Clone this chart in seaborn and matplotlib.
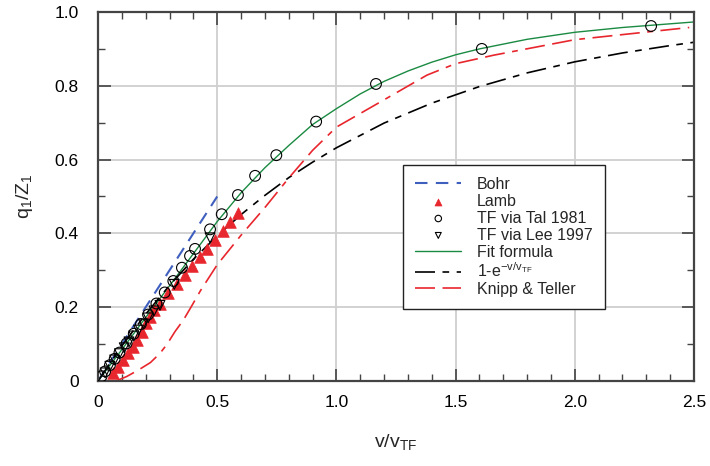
import numpy as np
import pandas as pd
import matplotlib
matplotlib.use("Agg")
import matplotlib.pyplot as plt
import seaborn as sns
from matplotlib.ticker import MultipleLocator, FuncFormatter

# ---------------- data ----------------
bohr_x = [0.0, 0.5]
bohr_y = [0.0, 0.5]

lamb_x = [0.064, 0.085, 0.106, 0.127, 0.148, 0.165, 0.183, 0.200, 0.218, 0.235,
          0.260, 0.294, 0.333, 0.366, 0.396, 0.428, 0.456, 0.491, 0.523, 0.554, 0.586]
lamb_y = [0.022, 0.039, 0.057, 0.075, 0.093, 0.111, 0.134, 0.156, 0.174, 0.192,
          0.210, 0.239, 0.263, 0.287, 0.312, 0.335, 0.358, 0.382, 0.406, 0.430, 0.454]

tal_x = [0.015, 0.03, 0.05, 0.07, 0.09, 0.12, 0.15, 0.18, 0.21, 0.245, 0.28,
         0.316, 0.352, 0.386, 0.407, 0.470, 0.519, 0.587, 0.659, 0.748, 0.915,
         1.166, 1.610, 2.320]
tal_y = [0.013, 0.026, 0.043, 0.060, 0.077, 0.102, 0.128, 0.154, 0.180, 0.210, 0.240,
         0.271, 0.307, 0.339, 0.358, 0.411, 0.452, 0.504, 0.556, 0.612, 0.703,
         0.805, 0.900, 0.962]

lee_x = [0.03, 0.05, 0.07, 0.09, 0.11, 0.13, 0.15, 0.17, 0.19, 0.21, 0.235, 0.26, 0.32, 0.47]
lee_y = [0.022, 0.040, 0.057, 0.074, 0.090, 0.106, 0.122, 0.138, 0.155, 0.171, 0.190, 0.205, 0.262, 0.388]

fit_x = [0.0, 0.1, 0.2, 0.3, 0.4, 0.5, 0.6, 0.7, 0.8, 0.9, 1.0, 1.1, 1.2, 1.3,
         1.4, 1.5, 1.6, 1.8, 2.0, 2.2, 2.32, 2.5]
fit_y = [0.0, 0.085, 0.172, 0.258, 0.345, 0.432, 0.510, 0.578, 0.638, 0.695, 0.738,
         0.778, 0.812, 0.840, 0.864, 0.884, 0.900, 0.926, 0.945, 0.958, 0.964, 0.973]

exp_x = [0.0, 0.1, 0.2, 0.3, 0.4, 0.5, 0.6, 0.7, 0.8, 0.9, 1.0, 1.2, 1.4, 1.6,
         1.8, 2.0, 2.2, 2.4, 2.5]
exp_y = [0.0, 0.095, 0.181, 0.259, 0.330, 0.393, 0.451, 0.503, 0.551, 0.593, 0.632,
         0.699, 0.753, 0.798, 0.835, 0.865, 0.889, 0.909, 0.918]

kt_x = [0.075, 0.12, 0.17, 0.22, 0.26, 0.29, 0.323, 0.358, 0.39, 0.43, 0.5, 0.6,
        0.7, 0.8, 0.9, 1.0, 1.2, 1.38, 1.5, 1.66, 2.0, 2.48]
kt_y = [0.0, 0.012, 0.030, 0.050, 0.075, 0.100, 0.134, 0.165, 0.200, 0.245, 0.315, 0.395,
        0.470, 0.550, 0.625, 0.688, 0.762, 0.829, 0.860, 0.883, 0.925, 0.958]

x_ticks = [0, 0.5, 1.0, 1.5, 2.0, 2.5]
y_ticks = [0, 0.2, 0.4, 0.6, 0.8, 1.0]

# ---------------- styling ----------------
sns.set_theme(style="ticks")
plt.rcParams['font.family'] = ['Liberation Sans', 'DejaVu Sans']
plt.rcParams['mathtext.fontset'] = 'custom'
plt.rcParams['mathtext.rm'] = 'Liberation Sans'
plt.rcParams['mathtext.it'] = 'Liberation Sans'

fig = plt.figure(figsize=(7.1, 4.66), dpi=100)
ax = fig.add_axes([98 / 710, 1 - 381 / 466, 596 / 710, 369 / 466])

blue = '#3f5fbf'
red = '#e8262d'
green = '#1b8a42'

sns.lineplot(x=bohr_x, y=bohr_y, ax=ax, color=blue, lw=1.5, sort=False, estimator=None)
l_bohr = ax.lines[-1]
l_bohr.set_dashes((6, 4))

sns.lineplot(x=fit_x, y=fit_y, ax=ax, color=green, lw=1.0, sort=False, estimator=None)
l_fit = ax.lines[-1]

sns.lineplot(x=exp_x, y=exp_y, ax=ax, color='black', lw=1.2, sort=False, estimator=None)
l_exp = ax.lines[-1]
l_exp.set_dashes((12, 4.5, 4, 4.5))

sns.lineplot(x=kt_x, y=kt_y, ax=ax, color=red, lw=1.2, sort=False, estimator=None)
l_kt = ax.lines[-1]
l_kt.set_dashes((12, 4.5, 12, 4.5, 3.5, 4.5))

s_lamb = ax.scatter(lamb_x, lamb_y, marker='^', s=70, color=red, edgecolor=red,
                    linewidth=0.5, zorder=4)
s_lee = ax.scatter(lee_x, lee_y, marker='v', s=50, facecolor='none',
                   edgecolor='black', linewidth=0.8, zorder=5)
s_tal = ax.scatter(tal_x, tal_y, marker='o', s=60, facecolor='none',
                   edgecolor='black', linewidth=0.8, zorder=5)

ax.set_xlim(0, 2.5)
ax.set_ylim(0, 1.0)
ax.set_xticks(x_ticks)
ax.set_yticks(y_ticks)
fmt = FuncFormatter(lambda v, p: '0' if abs(v) < 1e-9 else f'{v:.1f}')
ax.xaxis.set_major_formatter(fmt)
ax.yaxis.set_major_formatter(fmt)
ax.xaxis.set_minor_locator(MultipleLocator(0.1))
ax.yaxis.set_minor_locator(MultipleLocator(0.1))
ax.tick_params(which='both', direction='in', top=True, right=True, colors='#444444',
               labelcolor='black')
ax.tick_params(which='major', length=9, width=1.2, labelsize=12.5)
ax.tick_params(axis='y', which='major', pad=14)
ax.tick_params(axis='x', which='major', pad=10)
ax.tick_params(which='minor', length=5, width=1.0)
ax.grid(True, which='major', color='#cfcfcf', lw=1.3)
ax.set_axisbelow(True)
for sp in ax.spines.values():
    sp.set_color('#444444')
    sp.set_linewidth(1.6)

ax.set_xlabel(r'v/v$_{\mathregular{TF}}$', fontsize=14, labelpad=16)
ax.set_ylabel(r'q$_{\mathregular{1}}$/Z$_{\mathregular{1}}$', fontsize=14, labelpad=14)

handles = [l_bohr, s_lamb, s_tal, s_lee, l_fit, l_exp, l_kt]
labels = ['Bohr', 'Lamb', 'TF via Tal 1981', 'TF via Lee 1997', 'Fit formula',
          r'1-e$^{\mathregular{-v/v}_{\mathregular{TF}}}$', 'Knipp & Teller']
leg = ax.legend(handles, labels, loc='lower left',
                bbox_to_anchor=(0.512, 0.195, 0.339, 0.39), mode='expand',
                fontsize=11.5, frameon=True, fancybox=False, edgecolor='#222222',
                framealpha=1, handlelength=2.9, handletextpad=0.95,
                labelspacing=0.12, borderpad=0.75, borderaxespad=0,
                markerscale=0.6)
leg.get_frame().set_linewidth(1.0)

fig.savefig('out.png', dpi=100)
